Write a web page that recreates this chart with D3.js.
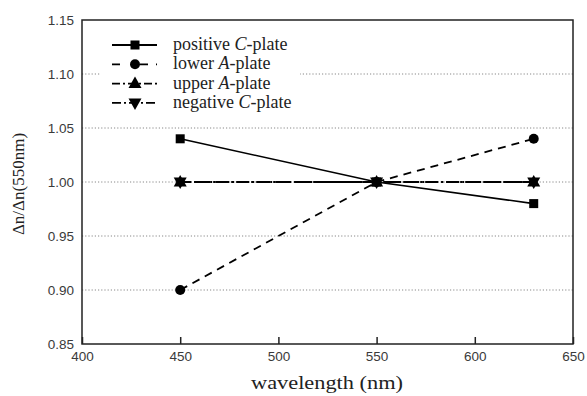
<!DOCTYPE html>
<html>
<head>
<meta charset="utf-8">
<script src="https://cdn.jsdelivr.net/npm/d3@7"></script>
<style>
  body { margin: 0; background: #fff; }
  svg { display: block; }
</style>
</head>
<body>
<svg id="chart" width="587" height="396"></svg>
<script>
// chart data
const wavelengths = [450, 550, 630];
const positiveC = [1.04, 1.00, 0.98];
const lowerA = [0.90, 1.00, 1.04];
const upperA = [1.00, 1.00, 1.00];
const negativeC = [1.00, 1.00, 1.00];
const xTicks = [400, 450, 500, 550, 600, 650];
const yTicks = [0.85, 0.90, 0.95, 1.00, 1.05, 1.10, 1.15];
const gridValues = [0.90, 0.95, 1.00, 1.05, 1.10];
const legendNames = [["positive ", "C", "-plate"], ["lower ", "A", "-plate"], ["upper ", "A", "-plate"], ["negative ", "C", "-plate"]];

const series = [
    { label: legendNames[0], values: positiveC, marker: "square", dash: null, legDash: null },
    { label: legendNames[1], values: lowerA, marker: "circle", dash: "8,6", legDash: "8,20,8" },
    { label: legendNames[2], values: upperA, marker: "up", dash: "11,3,2,3", offset: 0, legDash: "8,3,2,3" },
    { label: legendNames[3], values: negativeC, marker: "down", dash: "13,3,2,3", offset: 7, legDash: "9,3,2,3" }
];

const svg = d3.select("#chart");
const margin = { left: 82, top: 20, right: 14, bottom: 52 };
const W = 587, H = 396;
const serif = "'Liberation Serif', 'Times New Roman', serif";

const x = d3.scaleLinear().domain([400, 650]).range([margin.left, W - margin.right]);
const y = d3.scaleLinear().domain([0.85, 1.15]).range([H - margin.bottom, margin.top]);

// dotted grid lines
svg.append("g").selectAll("line")
    .data(gridValues)
    .join("line")
    .attr("x1", x(400)).attr("x2", x(650))
    .attr("y1", d => y(d)).attr("y2", d => y(d))
    .style("stroke", "#888")
    .style("stroke-width", 1)
    .style("stroke-dasharray", "1.2,2");

// frame
svg.append("rect")
    .attr("x", x(400)).attr("y", y(1.15))
    .attr("width", x(650) - x(400)).attr("height", y(0.85) - y(1.15))
    .style("fill", "none").style("stroke", "#222").style("stroke-width", 1.5);

// axes (ticks point inward on x)
const xAxis = svg.append("g")
    .attr("transform", `translate(0,${y(0.85)})`)
    .call(d3.axisBottom(x).tickValues(xTicks).tickSizeInner(-7).tickSizeOuter(0).tickFormat(d3.format("d")));
xAxis.select(".domain").remove();
xAxis.selectAll(".tick line").style("stroke", "#222").style("stroke-width", 1.5);
xAxis.selectAll(".tick text").attr("y", 17).attr("dy", null);

const yAxis = svg.append("g")
    .attr("transform", `translate(${x(400)},0)`)
    .call(d3.axisLeft(y).tickValues(yTicks).tickSize(0).tickPadding(8).tickFormat(d3.format(".2f")));
yAxis.select(".domain").remove();

svg.selectAll(".tick text")
    .style("font-family", "'Liberation Sans', Arial, sans-serif")
    .style("font-size", "13.5px")
    .style("fill", "#3a3a3a");

// axis titles
svg.append("text")
    .attr("x", 327).attr("y", 389)
    .attr("text-anchor", "middle")
    .attr("textLength", 152).attr("lengthAdjust", "spacingAndGlyphs")
    .style("font-family", serif)
    .style("font-size", "18px").style("fill", "#222")
    .text("wavelength (nm)");

svg.append("text")
    .attr("transform", `translate(24,${(y(0.85) + y(1.15)) / 2 + 2}) rotate(-90)`)
    .attr("text-anchor", "middle")
    .style("font-family", serif)
    .style("font-size", "17px").style("fill", "#222")
    .text("\u0394n/\u0394n(550nm)");

// marker drawing
function drawMarker(g, type, cx, cy) {
    if (type === "square") {
        g.append("rect").attr("x", cx - 4.5).attr("y", cy - 4.5).attr("width", 9).attr("height", 9).style("fill", "#000");
    } else if (type === "circle") {
        g.append("circle").attr("cx", cx).attr("cy", cy).attr("r", 5).style("fill", "#000");
    } else if (type === "up") {
        g.append("path").attr("d", `M${cx},${cy - 7}L${cx + 6.5},${cy + 4.5}L${cx - 6.5},${cy + 4.5}Z`).style("fill", "#000");
    } else {
        g.append("path").attr("d", `M${cx},${cy + 7}L${cx + 6.5},${cy - 4.5}L${cx - 6.5},${cy - 4.5}Z`).style("fill", "#000");
    }
}

const line = d3.line().x((d, i) => x(wavelengths[i])).y(d => y(d));

// legend (white box hides grid behind it)
svg.append("rect").attr("x", 100).attr("y", 33).attr("width", 200).attr("height", 82).style("fill", "#fff");

series.forEach((s, i) => {
    const ly = 45 + i * 19.3;
    const lg = svg.append("g");
    lg.append("line")
        .attr("x1", 112).attr("x2", 157).attr("y1", ly).attr("y2", ly)
        .style("stroke", "#000").style("stroke-width", 1.8)
        .style("stroke-dasharray", s.legDash);
    drawMarker(lg, s.marker, 135, ly);
    const t = lg.append("text")
        .attr("x", 173).attr("y", ly + 5)
        .style("font-family", serif)
        .style("font-size", "18px").style("fill", "#222");
    t.append("tspan").text(s.label[0]);
    t.append("tspan").style("font-style", "italic").text(s.label[1]);
    t.append("tspan").text(s.label[2]);
});

// series lines and markers
series.slice().reverse().forEach(s => {
    svg.append("path")
        .datum(s.values)
        .attr("d", line)
        .style("fill", "none").style("stroke", "#000").style("stroke-width", s.dash ? 1.8 : 1.6)
        .style("stroke-dasharray", s.dash)
        .style("stroke-dashoffset", s.offset || 0);
    const g = svg.append("g");
    s.values.forEach((v, i) => drawMarker(g, s.marker, x(wavelengths[i]), y(v)));
});
</script>
</body>
</html>
